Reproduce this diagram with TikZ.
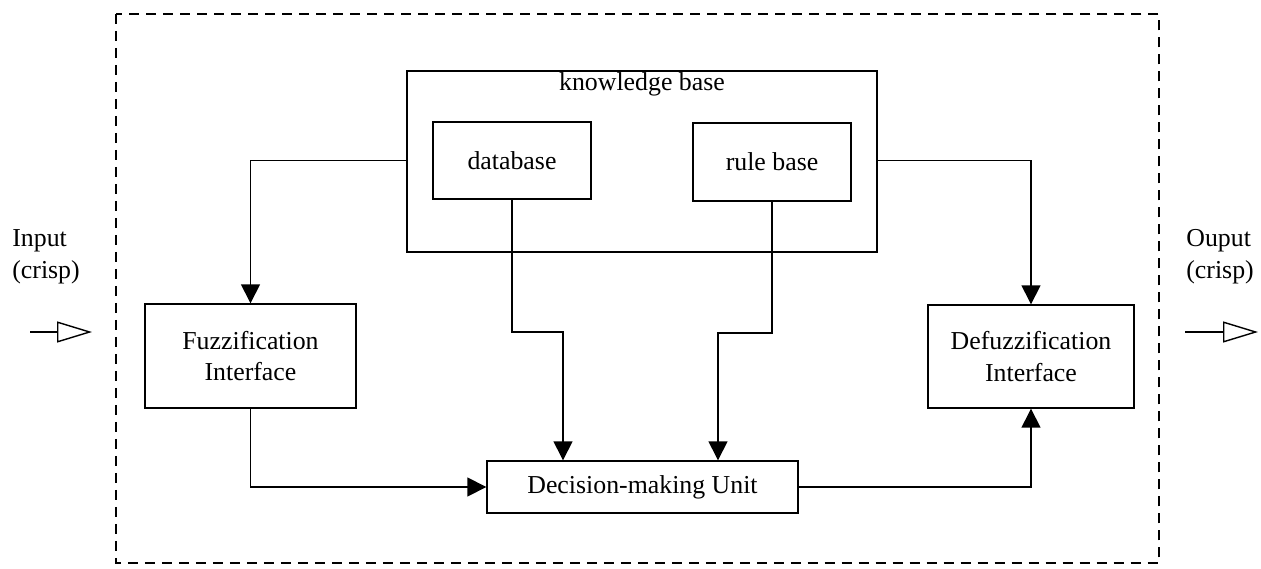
\documentclass[tikz,border=0pt]{standalone}
\usepackage{fontspec}
\setmainfont{Liberation Serif}
\usetikzlibrary{arrows.meta}
\begin{document}
\begin{tikzpicture}[x=0.02cm,y=-0.02cm,
  font=\fontsize{14.7}{18}\selectfont,
  box/.style={draw,line width=0.8pt,inner sep=0pt,align=center},
  arr/.style={line width=0.8pt,-{Triangle[length=0.38cm,width=0.38cm]}},
  openarr/.style={line width=0.8pt,-{Triangle[open,length=0.7cm,width=0.42cm]}},
  lbl/.style={inner sep=0pt,align=left,anchor=west}]
\useasboundingbox (0,0) rectangle (1261,568);
\draw[line width=0.7pt,dash pattern=on 0.2cm off 0.14cm] (116,14) rectangle (1159,563);
\node[box,minimum width=9.4cm,minimum height=3.62cm] (kb) at (642,161.5) {};
\node[inner sep=0pt] (kbl) at (642,84) {knowledge base};
\node[box,minimum width=3.16cm,minimum height=1.54cm] (db) at (512,160.5) {database};
\node[box,minimum width=3.16cm,minimum height=1.56cm] (rb) at (772,162) {rule base};
\node[box,minimum width=4.22cm,minimum height=2.08cm] (fuzz) at (250.5,356) {Fuzzification\\Interface};
\node[box,minimum width=4.12cm,minimum height=2.06cm] (defuzz) at (1031,356.5) {Defuzzification\\Interface};
\node[box,minimum width=6.22cm,minimum height=1.04cm] (dec) at (642.5,487) {Decision-making Unit};
\coordinate (j1) at (563,332);
\coordinate (j2) at (718,333);
\draw[arr] (kb.west |- db.west) -| (fuzz.north);
\draw[arr] (kb.east |- db.east) -| (defuzz.north);
\draw[arr] (db.south) |- (j1) -- (j1 |- dec.north);
\draw[arr] (rb.south) |- (j2) -- (j2 |- dec.north);
\draw[arr] (fuzz.south) |- (dec.west);
\draw[arr] (dec.east) -| (defuzz.south);
\node[lbl] (inl) at (12,257) {Input\\(crisp)};
\node[lbl] (outl) at (1186,257) {Ouput\\(crisp)};
\coordinate (in0) at (30,332);
\coordinate (in1) at (92,332);
\coordinate (out0) at (1185,332);
\coordinate (out1) at (1258,332);
\draw[openarr] (in0) -- (in1);
\draw[openarr] (out0) -- (out1);
\end{tikzpicture}
\end{document}
